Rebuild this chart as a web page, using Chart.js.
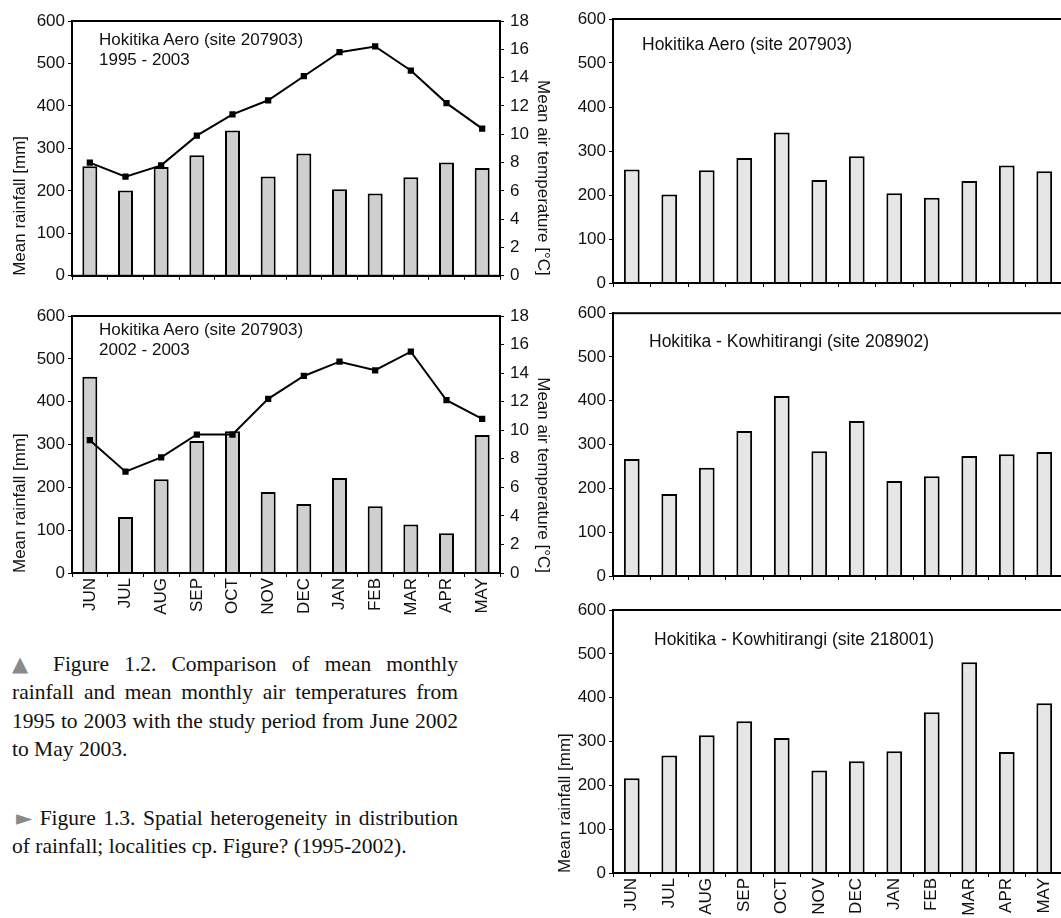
<!DOCTYPE html>
<html>
<head>
<meta charset="utf-8">
<script src="https://cdn.jsdelivr.net/npm/chart.js@4.4.0/dist/chart.umd.min.js"></script>
<style>
  html, body { margin: 0; padding: 0; background: #fff; }
  body { width: 1061px; height: 918px; overflow: hidden; position: relative; font-family: "Liberation Sans", Arial, sans-serif; }
  canvas { position: absolute; }
  .note { position: absolute; font-size: 17px; line-height: 20px; color: #111; white-space: nowrap; }
  .cap { position: absolute; left: 12px; width: 446px; font-family: "Liberation Serif", "Times New Roman", serif; font-size: 21.5px; line-height: 28.4px; color: #111; }
  .cap div { height: 28.4px; overflow: visible; text-align: justify; text-align-last: justify; }
  .cap div.last { text-align-last: left; }
  .tri { color: #8a8a8a; font-family: "DejaVu Sans", sans-serif; font-size: 21px; line-height: 1; }
</style>
</head>
<body>
<canvas id="aeroLong" width="560" height="292" style="left:0;top:0"></canvas>
<canvas id="aeroStudy" width="560" height="340" style="left:0;top:290px"></canvas>
<canvas id="siteAero" width="520" height="300" style="left:555px;top:0"></canvas>
<canvas id="site208902" width="520" height="300" style="left:555px;top:300px"></canvas>
<canvas id="site218001" width="520" height="322" style="left:555px;top:596px"></canvas>

<div class="note" style="left:99px;top:30px">Hokitika Aero (site 207903)<br>1995 - 2003</div>
<div class="note" style="left:99px;top:320px">Hokitika Aero (site 207903)<br>2002 - 2003</div>
<div class="note" style="left:642px;top:34px;font-size:17.5px">Hokitika Aero (site 207903)</div>
<div class="note" style="left:649px;top:331px;font-size:17.5px">Hokitika - Kowhitirangi (site 208902)</div>
<div class="note" style="left:654px;top:629px;font-size:17.5px">Hokitika - Kowhitirangi (site 218001)</div>

<div class="cap" style="top:650px">
  <div><span class="tri">▲</span> Figure 1.2. Comparison of mean monthly</div>
  <div>rainfall and mean monthly air temperatures from</div>
  <div>1995 to 2003 with the study period from June 2002</div>
  <div class="last">to May 2003.</div>
</div>
<div class="cap" style="top:804px">
  <div style="padding-left:4px"><span class="tri">►</span> Figure 1.3. Spatial heterogeneity in distribution</div>
  <div class="last">of rainfall; localities cp. Figure? (1995-2002).</div>
</div>

<script>
const months = ['JUN', 'JUL', 'AUG', 'SEP', 'OCT', 'NOV', 'DEC', 'JAN', 'FEB', 'MAR', 'APR', 'MAY'];

// Hokitika Aero 1995-2003
const rainAero9503 = [258, 201, 256, 284, 342, 234, 288, 204, 194, 232, 267, 254];
const tempAero9503 = [8.0, 7.0, 7.8, 9.9, 11.4, 12.4, 14.1, 15.8, 16.2, 14.5, 12.2, 10.4];

// Hokitika Aero 2002-2003 (study period)
const rainAero0203 = [458, 131, 219, 308, 331, 189, 161, 222, 156, 113, 93, 322];
const tempAero0203 = [9.3, 7.1, 8.1, 9.7, 9.7, 12.2, 13.8, 14.8, 14.2, 15.5, 12.1, 10.8];

// Hokitika - Kowhitirangi sites
const rainKow208902 = [267, 187, 247, 331, 411, 285, 354, 217, 228, 274, 278, 283];
const rainKow218001 = [216, 268, 314, 346, 308, 234, 255, 278, 367, 481, 276, 387];

const rainMax = 600, rainStep = 100;
const tempMax = 18, tempStep = 2;

const txt = '#111';
const font17 = { family: '"Liberation Sans", Arial, sans-serif', size: 17 };

// draws the closed box around the plot area
const framePlugin = {
    id: 'frame',
    afterDatasetsDraw(chart) {
        const { ctx, chartArea: a } = chart;
        ctx.save();
        ctx.strokeStyle = '#000';
        ctx.lineWidth = 2;
        ctx.strokeRect(a.left, a.top, a.right - a.left, a.bottom - a.top);
        ctx.restore();
    }
};

function rainAxis(width, showTitle, titlePad) {
    return {
        position: 'left',
        min: 0,
        max: rainMax,
        ticks: { stepSize: rainStep, color: txt, font: font17, padding: 3 },
        grid: { drawOnChartArea: false, tickLength: 4, color: '#000' },
        border: { color: '#000', width: 2 },
        title: {
            display: showTitle,
            text: 'Mean rainfall [mm]',
            color: txt,
            font: font17,
            align: 'start',
            padding: { top: titlePad, bottom: 0 }
        },
        afterFit: function(scale) { scale.width = width; }
    };
}

function monthAxis(height, showLabels) {
    return {
        type: 'category',
        offset: true,
        ticks: {
            display: showLabels,
            autoSkip: false,
            maxRotation: 90,
            minRotation: 90,
            color: txt,
            font: font17,
            padding: 1
        },
        grid: { offset: true, drawOnChartArea: false, tickLength: 4, color: '#000' },
        border: { color: '#000', width: 2 },
        afterFit: function(scale) { scale.height = height; }
    };
}

function climateChart(id, rain, temp, padTop, xHeight, showLabels) {
    const ctx = document.getElementById(id).getContext('2d');
    return new Chart(ctx, {
        type: 'bar',
        data: {
            labels: months,
            datasets: [{
                type: 'line',
                label: 'Mean air temperature',
                data: temp,
                yAxisID: 'yTemp',
                borderColor: '#000',
                borderWidth: 2,
                pointStyle: 'rect',
                pointRadius: 3,
                pointBackgroundColor: '#000',
                pointBorderColor: '#000',
                tension: 0,
                order: 0
            }, {
                label: 'Mean rainfall',
                data: rain,
                yAxisID: 'y',
                backgroundColor: '#cfcfcf',
                borderColor: '#000',
                borderWidth: 2,
                categoryPercentage: 1,
                barPercentage: 0.42,
                order: 1
            }]
        },
        options: {
            responsive: false,
            animation: false,
            devicePixelRatio: 1,
            layout: { padding: { top: padTop, right: 0, left: 0, bottom: 0 } },
            plugins: { legend: { display: false }, tooltip: { enabled: false } },
            scales: {
                x: monthAxis(xHeight, showLabels),
                y: rainAxis(72, true, 10),
                yTemp: {
                    position: 'right',
                    min: 0,
                    max: tempMax,
                    ticks: { stepSize: tempStep, color: txt, font: font17, padding: 6 },
                    grid: { drawOnChartArea: false, tickLength: 4, color: '#000' },
                    border: { color: '#000', width: 2 },
                    title: {
                        display: true,
                        text: 'Mean air temperature [°C]',
                        color: txt,
                        font: font17,
                        align: 'start',
                        padding: { top: 7, bottom: 0 }
                    },
                    afterFit: function(scale) { scale.width = 60; }
                }
            }
        },
        plugins: [framePlugin]
    });
}

function siteChart(id, rain, padTop, xHeight, showLabels, showTitle) {
    const ctx = document.getElementById(id).getContext('2d');
    return new Chart(ctx, {
        type: 'bar',
        data: {
            labels: months,
            datasets: [{
                label: 'Mean rainfall',
                data: rain,
                backgroundColor: '#e6e6e6',
                borderColor: '#000',
                borderWidth: 2,
                categoryPercentage: 1,
                barPercentage: 0.42
            }]
        },
        options: {
            responsive: false,
            animation: false,
            devicePixelRatio: 1,
            layout: { padding: { top: padTop, right: 12, left: 0, bottom: 0 } },
            plugins: { legend: { display: false }, tooltip: { enabled: false } },
            scales: {
                x: monthAxis(xHeight, showLabels),
                y: rainAxis(58, showTitle, 0)
            }
        },
        plugins: [framePlugin]
    });
}

climateChart('aeroLong', rainAero9503, tempAero9503, 21, 15, false);
climateChart('aeroStudy', rainAero0203, tempAero0203, 26, 57, true);
siteChart('siteAero', rainAero9503, 19, 17, false, false);
siteChart('site208902', rainKow208902, 13, 24, false, false);
siteChart('site218001', rainKow218001, 14, 45, true, true);
</script>
</body>
</html>
